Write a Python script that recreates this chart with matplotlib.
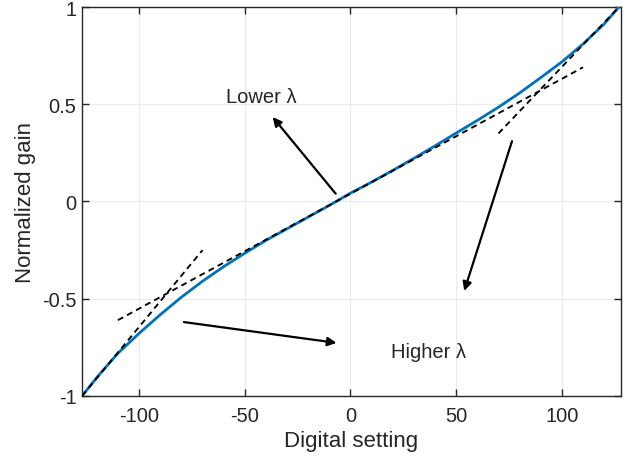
import matplotlib.pyplot as plt
import numpy as np

plt.rcParams['font.family'] = ['Liberation Sans', 'DejaVu Sans']

# measured normalized gain vs digital setting
setting = [-127, -120, -110, -100, -90, -80, -70, -60, -50, -40, -30, -20, -10,
           0, 10, 20, 30, 40, 50, 60, 70, 80, 90, 100, 110, 120, 127]
gain = [-1.0, -0.905, -0.78, -0.678, -0.582, -0.492, -0.41, -0.335, -0.266, -0.2,
        -0.14, -0.08, -0.02, 0.043, 0.10, 0.16, 0.222, 0.286, 0.352, 0.417,
        0.485, 0.558, 0.637, 0.718, 0.81, 0.913, 1.0]

# tangent (dashed) lines: x endpoints and y endpoints
mid_x = [-110, 110]
mid_y = [-0.61, 0.69]
low_x = [-127, -70]
low_y = [-1.0, -0.25]
high_x = [70, 127]
high_y = [0.35, 1.0]

fig = plt.figure(figsize=(6.28, 4.6), dpi=100)
ax = fig.add_axes([0.1306, 0.137, 0.8584, 0.8456])

ax.plot(setting, gain, color='#0072BD', lw=2, zorder=3)
for xs, ys in [(mid_x, mid_y), (low_x, low_y), (high_x, high_y)]:
    ax.plot(xs, ys, 'k--', lw=1.35, dashes=(3.2, 2.3), zorder=4)

arr = dict(arrowstyle='-|>', color='k', lw=1.6, mutation_scale=13, shrinkA=0, shrinkB=0)
ax.annotate('', xy=(-36.8, 0.434), xytext=(-7, 0.04), arrowprops=arr)
ax.annotate('', xy=(-6.6, -0.727), xytext=(-78.8, -0.62), arrowprops=arr)
ax.annotate('', xy=(53.8, -0.46), xytext=(76.4, 0.31), arrowprops=arr)

ax.text(-42, 0.54, 'Lower λ', fontsize=14.5, ha='center', va='center', color='#262626')
ax.text(36.8, -0.77, 'Higher λ', fontsize=14.5, ha='center', va='center', color='#262626')

ax.set_xlim(-127, 128)
ax.set_ylim(-1, 1)
ax.set_xticks([-100, -50, 0, 50, 100])
ax.set_yticks([-1, -0.5, 0, 0.5, 1])
ax.set_yticklabels(['-1', '-0.5', '0', '0.5', '1'])
ax.set_xticklabels(['-100', '-50', '0', '50', '100'])
ax.grid(True, color='#ebebeb', lw=0.8)
ax.set_axisbelow(True)
ax.tick_params(direction='in', top=True, right=True, labelsize=14.5, colors='#262626',
               length=5, width=1)
ax.tick_params(axis='y', pad=4)
ax.tick_params(axis='x', pad=7)
for s in ax.spines.values():
    s.set_color('#262626')
    s.set_linewidth(1)
ax.set_xlabel('Digital setting', fontsize=16, color='#262626', labelpad=4)
ax.set_ylabel('Normalized gain', fontsize=16, color='#262626', labelpad=4)

fig.savefig('out.png', dpi=100)
